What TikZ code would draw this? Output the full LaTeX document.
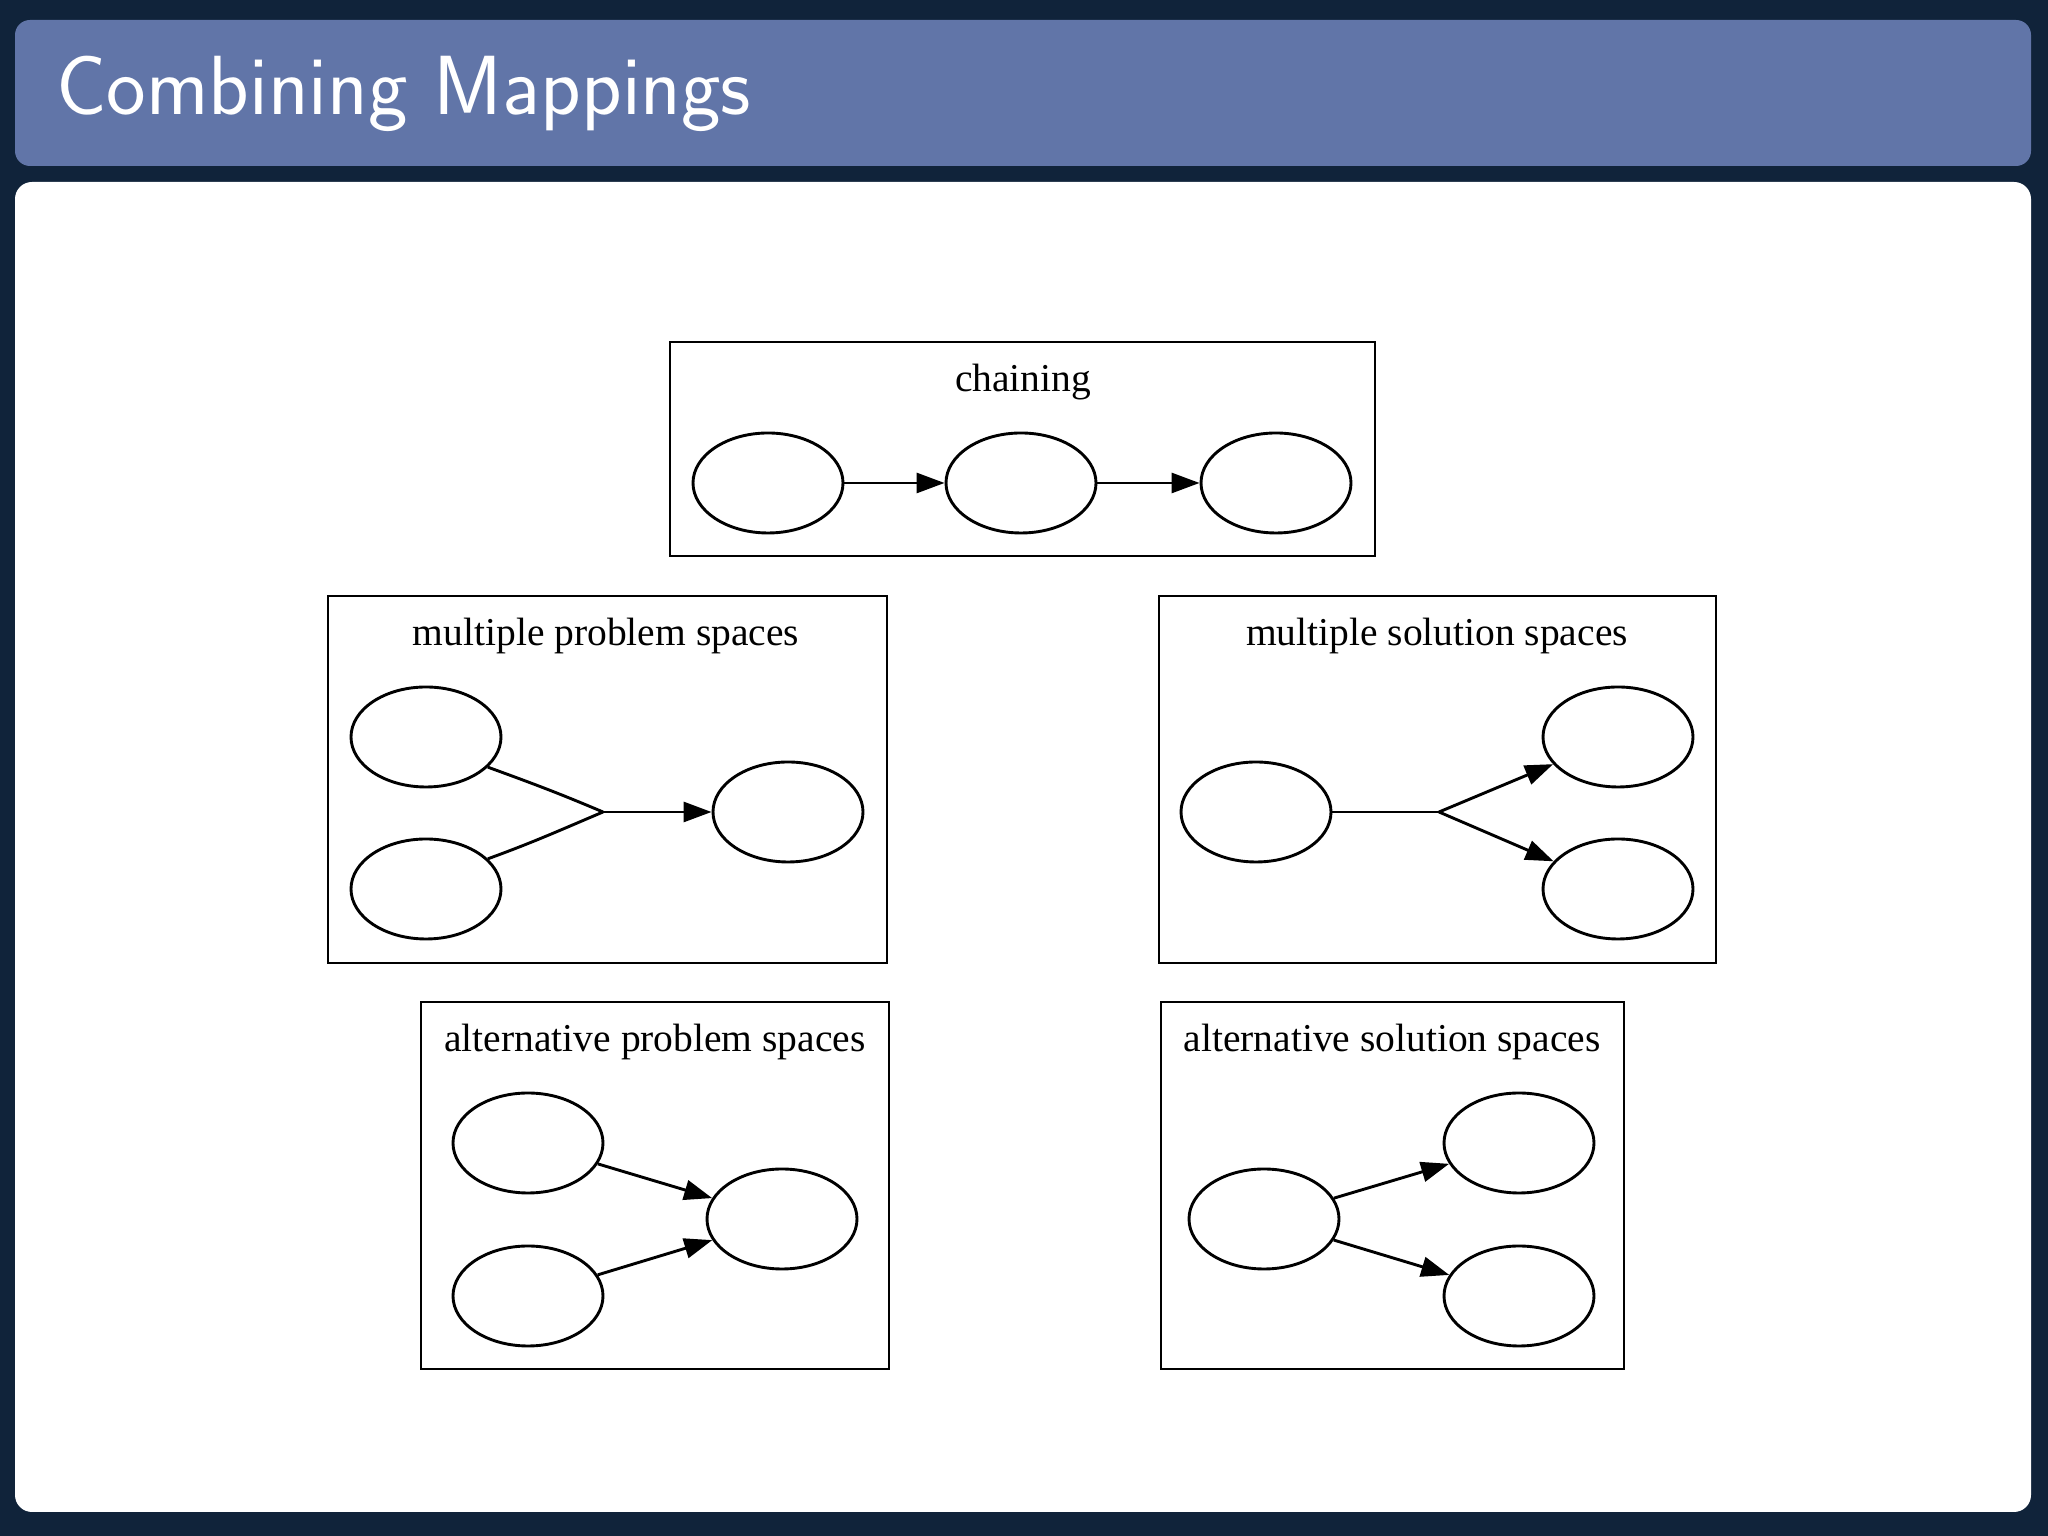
\documentclass[tikz,border=0pt]{standalone}
\usepackage{fontspec}
\newfontfamily\gvfont{Liberation Serif}
\usetikzlibrary{arrows.meta,shapes.geometric}
\definecolor{navy}{HTML}{10233A}
\definecolor{barblue}{HTML}{6175A8}
\begin{document}
\begin{tikzpicture}[x=1pt,y=1pt,
  gvnode/.style={ellipse, draw, line width=2.9pt, minimum width=150pt, minimum height=100pt, inner sep=0pt},
  cluster/.style={draw, line width=2.6pt, inner sep=0pt},
  gvlabel/.style={font=\gvfont\fontsize{39.5}{46}\selectfont, anchor=base, inner sep=0pt},
  gvedge/.style={line width=2.9pt},
  gvarrow/.style={gvedge, -{Triangle[length=28pt,width=20pt]}}
]
\useasboundingbox (0,0) rectangle (2048,1536);
\fill[navy] (0,0) rectangle (2048,1536);
\fill[barblue, rounded corners=15pt] (15,1370) rectangle (2031,1516);
\fill[white, rounded corners=17pt] (15,24) rectangle (2031,1354);
\node[anchor=base west, text=white, font=\sffamily\fontsize{84}{100}\selectfont, inner sep=0pt] (title) at (56,1421) {Combining Mappings};

% chaining
\node[cluster, minimum width=705pt, minimum height=214pt] (chainbox) at (1022.5,1087) {};
\node[gvlabel] (chainlbl) at (1023,1144) {chaining};
\node[gvnode] (c1) at (768,1053) {};
\node[gvnode] (c2) at (1021,1053) {};
\node[gvnode] (c3) at (1276,1053) {};
\draw[gvarrow] (c1) -- (c2);
\draw[gvarrow] (c2) -- (c3);

% multiple problem spaces
\node[cluster, minimum width=559pt, minimum height=367pt] (mpbox) at (607.5,756.5) {};
\node[gvlabel] (mplbl) at (606,890) {multiple problem spaces};
\node[gvnode] (mpa) at (426,799) {};
\node[gvnode] (mpb) at (426,647) {};
\node[gvnode] (mpc) at (788,724) {};
\coordinate (mpj) at (603,724);
\draw[gvedge] (mpa.-26) to[out=-20,in=157] (mpj);
\draw[gvedge] (mpb.26) to[out=20,in=203] (mpj);
\draw[gvarrow] (mpj) -- (mpc);

% multiple solution spaces
\node[cluster, minimum width=557pt, minimum height=367pt] (msbox) at (1437.5,756.5) {};
\node[gvlabel] (mslbl) at (1437,890) {multiple solution spaces};
\node[gvnode] (msa) at (1256,724) {};
\node[gvnode] (msb) at (1618,799) {};
\node[gvnode] (msc) at (1618,647) {};
\coordinate (msj) at (1439,724);
\draw[gvedge] (msa.east) -- (msj);
\draw[gvarrow] (msj) -- (msb);
\draw[gvarrow] (msj) -- (msc);

% alternative problem spaces
\node[cluster, minimum width=468pt, minimum height=367pt] (apbox) at (655,350.5) {};
\node[gvlabel] (aplbl) at (655,484) {alternative problem spaces};
\node[gvnode] (apa) at (528,393) {};
\node[gvnode] (apb) at (528,240) {};
\node[gvnode] (apc) at (782,317) {};
\draw[gvarrow] (apa) -- (apc);
\draw[gvarrow] (apb) -- (apc);

% alternative solution spaces
\node[cluster, minimum width=463pt, minimum height=367pt] (asbox) at (1392.5,350.5) {};
\node[gvlabel] (aslbl) at (1392,484) {alternative solution spaces};
\node[gvnode] (asa) at (1264,317) {};
\node[gvnode] (asb) at (1519,393) {};
\node[gvnode] (asc) at (1519,240) {};
\draw[gvarrow] (asa) -- (asb);
\draw[gvarrow] (asa) -- (asc);
\end{tikzpicture}
\end{document}
